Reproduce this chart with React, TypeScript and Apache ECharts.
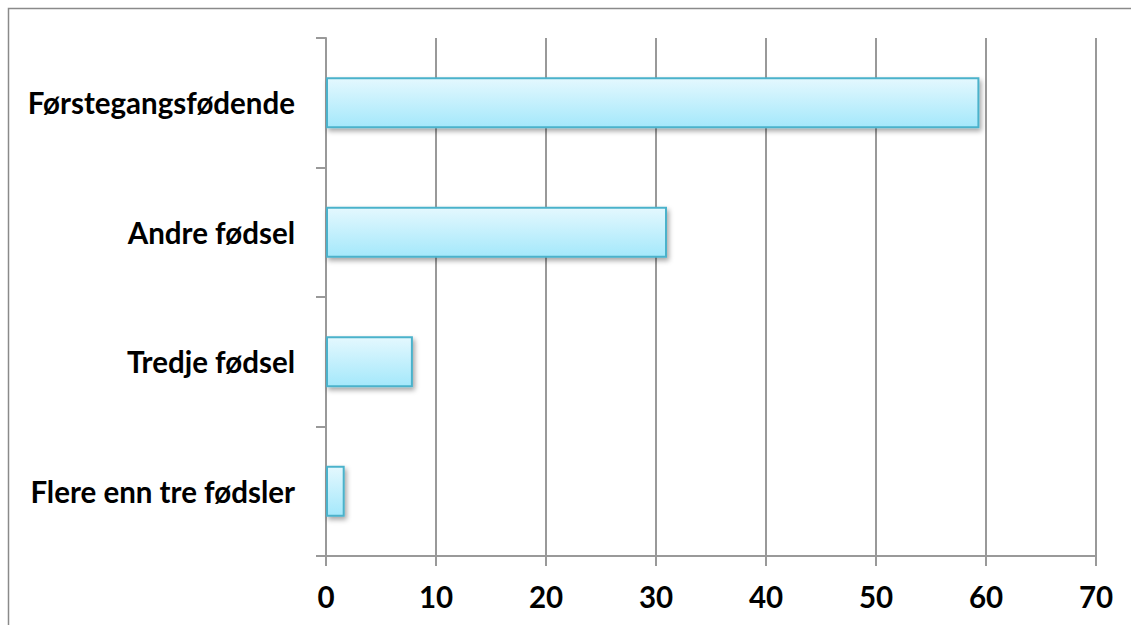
import React, { useEffect, useRef } from "react";
import * as echarts from "echarts";

// Births by order (percent)
const categories = [
  "Førstegangsfødende",
  "Andre fødsel",
  "Tredje fødsel",
  "Flere enn tre fødsler",
];
const values = [59.4, 31.0, 7.9, 1.7];
const xTicks = [0, 10, 20, 30, 40, 50, 60, 70];

const FONT = "Lato, 'Liberation Sans', sans-serif";

export default function App() {
  const ref = useRef<HTMLDivElement>(null);

  useEffect(() => {
    if (!ref.current) return;
    const chart = echarts.init(ref.current, null, { renderer: "svg" });
    chart.setOption({
      animation: false,
      backgroundColor: "#ffffff",
      grid: { left: 326, right: 35, top: 38, bottom: 69 },
      graphic: [
        {
          type: "polyline",
          shape: { points: [[8.5, 640], [8.5, 8.5], [1140, 8.5]] },
          style: { fill: "none", stroke: "#8a8a8a", lineWidth: 1.5 },
          silent: true,
          z: -1,
        },
      ],
      xAxis: {
        type: "value",
        min: xTicks[0],
        max: xTicks[xTicks.length - 1],
        interval: 10,
        axisLine: { show: true, lineStyle: { color: "#999999", width: 2 } },
        axisTick: { show: true, length: 10, lineStyle: { color: "#999999", width: 2 } },
        splitLine: { show: true, lineStyle: { color: "#999999", width: 2 } },
        axisLabel: {
          margin: 25,
          fontFamily: FONT,
          fontWeight: "bold",
          fontSize: 29.5,
          color: "#000000",
        },
      },
      yAxis: {
        type: "category",
        data: categories,
        inverse: true,
        axisLine: { show: true, lineStyle: { color: "#999999", width: 2 } },
        axisTick: { show: true, length: 10, lineStyle: { color: "#999999", width: 2 } },
        axisLabel: {
          margin: 31,
          fontFamily: FONT,
          fontWeight: "bold",
          fontSize: 29.5,
          color: "#000000",
        },
      },
      series: [
        {
          type: "bar",
          data: values,
          barWidth: 51,
          itemStyle: {
            color: new echarts.graphic.LinearGradient(0, 0, 0, 1, [
              { offset: 0, color: "#e4f8fe" },
              { offset: 1, color: "#a4e8fb" },
            ]),
            borderColor: "#4bb2cb",
            borderWidth: 2,
            shadowColor: "rgba(0,0,0,0.35)",
            shadowBlur: 5,
            shadowOffsetX: 2,
            shadowOffsetY: 3,
          },
        },
      ],
    });
    return () => chart.dispose();
  }, []);

  return (
    <div
      ref={ref}
      style={{ position: "fixed", left: 0, top: 0, width: 1131, height: 625 }}
    />
  );
}
